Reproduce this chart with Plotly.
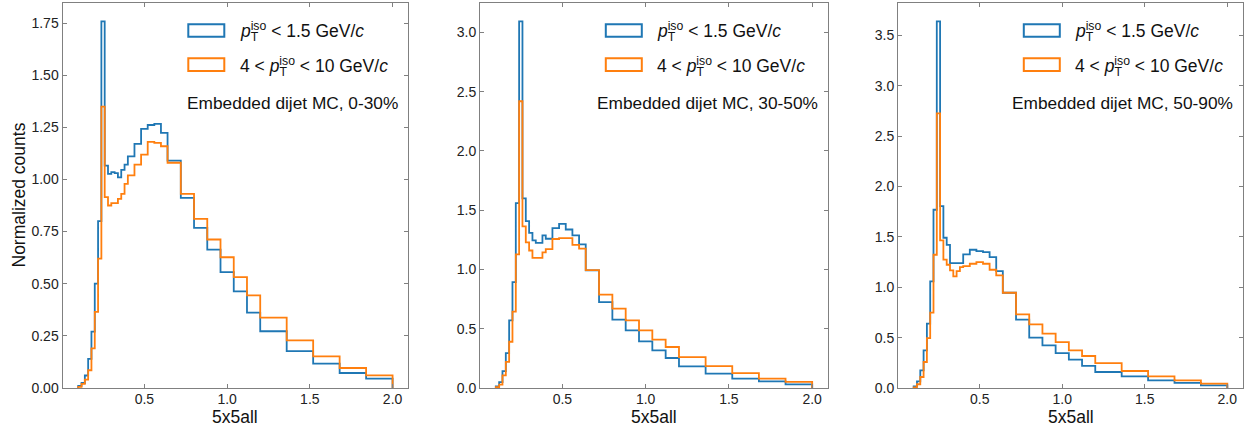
import plotly.graph_objects as go

# ---------------- data ----------------
bin_edges = [0.10, 0.12, 0.14, 0.16, 0.18, 0.20, 0.22, 0.24, 0.26, 0.28, 0.30,
             0.32, 0.34, 0.36, 0.38, 0.40, 0.44, 0.48, 0.52, 0.56, 0.60, 0.64,
             0.72, 0.80, 0.88, 0.96, 1.04, 1.12, 1.20, 1.36, 1.52, 1.68, 1.84, 2.00]

iso_low_0_30 = [0.010, 0.024, 0.060, 0.140, 0.270, 0.500, 0.800,
                1.758,
                1.066, 1.027, 1.035, 1.030, 1.010, 1.046, 1.071,
                1.111, 1.170, 1.242, 1.261, 1.266, 1.223,
                1.090, 0.912, 0.768, 0.663, 0.556, 0.463, 0.361,
                0.272, 0.177, 0.117, 0.072, 0.045]
iso_high_0_30 = [0.005, 0.020, 0.040, 0.085, 0.190, 0.365, 0.620,
                 1.349,
                 0.915, 0.875, 0.886, 0.886, 0.907, 0.931, 0.979,
                 1.019, 1.071, 1.119, 1.180, 1.175, 1.159,
                 1.080, 0.931, 0.811, 0.712, 0.627, 0.532, 0.444,
                 0.337, 0.228, 0.152, 0.096, 0.061]

iso_low_30_50 = [0.014, 0.050, 0.143, 0.295, 0.570, 0.893, 1.559,
                 3.093,
                 1.600, 1.407, 1.309, 1.245, 1.225, 1.225, 1.287,
                 1.259, 1.348, 1.385, 1.337, 1.287, 1.211,
                 0.992, 0.725, 0.576, 0.486, 0.394, 0.318, 0.253,
                 0.183, 0.121, 0.079, 0.056, 0.031]
iso_high_30_50 = [0.008, 0.028, 0.107, 0.220, 0.390, 0.645, 1.127,
                  2.419,
                  1.363, 1.229, 1.160, 1.098, 1.098, 1.098, 1.144,
                  1.172, 1.257, 1.265, 1.265, 1.207, 1.175,
                  0.995, 0.787, 0.669, 0.570, 0.486, 0.408, 0.346,
                  0.261, 0.185, 0.126, 0.079, 0.051]

iso_low_50_90 = [0.017, 0.066, 0.176, 0.374, 0.639, 1.059, 1.770,
                 3.641,
                 1.806, 1.492, 1.422, 1.240, 1.240, 1.240, 1.240,
                 1.326, 1.373, 1.360, 1.350, 1.300, 1.161,
                 0.946, 0.678, 0.500, 0.424, 0.347, 0.282, 0.219,
                 0.159, 0.116, 0.076, 0.050, 0.027]
iso_high_50_90 = [0.007, 0.037, 0.109, 0.258, 0.496, 0.748, 1.323,
                  2.728,
                  1.465, 1.274, 1.224, 1.168, 1.108, 1.161, 1.200,
                  1.210, 1.234, 1.250, 1.234, 1.174, 1.118,
                  0.946, 0.731, 0.632, 0.540, 0.456, 0.374, 0.318,
                  0.248, 0.169, 0.116, 0.076, 0.043]

panel_labels = ["Embedded dijet MC, 0-30%", "Embedded dijet MC, 30-50%", "Embedded dijet MC, 50-90%"]
series_low = [iso_low_0_30, iso_low_30_50, iso_low_50_90]
series_high = [iso_high_0_30, iso_high_30_50, iso_high_50_90]
y_tick_vals = [[0, 0.25, 0.5, 0.75, 1.0, 1.25, 1.5, 1.75],
               [0, 0.5, 1.0, 1.5, 2.0, 2.5, 3.0],
               [0, 0.5, 1.0, 1.5, 2.0, 2.5, 3.0, 3.5]]
y_tick_fmt = [".2f", ".1f", ".1f"]
x_tick_vals = [0.5, 1.0, 1.5, 2.0]
legend_low = "<i>p</i><sub><span style='letter-spacing:-0.62em'>T</span></sub><sup>iso</sup> < 1.5 GeV/<i>c</i>"
legend_high = "4 < <i>p</i><sub><span style='letter-spacing:-0.62em'>T</span></sub><sup>iso</sup> < 10 GeV/<i>c</i>"
x_title = "5x5all"
y_title = "Normalized counts"

BLUE = "#1f77b4"
ORANGE = "#ff7f0e"
FONT = "Liberation Sans"
SPINE = "#808080"

# ---------------- layout geometry (pixels) ----------------
W, H = 1250, 430
ML, MR, MT, MB = 62, 7, 3, 42
PW = W - ML - MR
PH = H - MT - MB
panels_px = [(62.5, 408.3), (480.0, 828.0), (898.0, 1243.0)]


def step_xy(edges, vals):
    xs = [edges[0]] + list(edges[:-1]) + [edges[-1], edges[-1]]
    ys = [0] + list(vals) + [vals[-1], 0]
    return xs, ys


fig = go.Figure()
annotations = []
shapes = []
xr = [0.005, 2.095]

for i in range(3):
    ax = "" if i == 0 else str(i + 1)
    xa, ya = "x" + ax, "y" + ax
    for vals, col in ((series_low[i], BLUE), (series_high[i], ORANGE)):
        xs, ys = step_xy(bin_edges, vals)
        fig.add_trace(go.Scatter(x=xs, y=ys, mode="lines", line_shape="hv",
                                 line=dict(color=col, width=1.8),
                                 xaxis=xa, yaxis=ya, showlegend=False,
                                 hoverinfo="skip"))
    x0p, x1p = panels_px[i]
    dom = [(x0p - ML) / PW, (x1p - ML) / PW]
    ymax = max(max(series_low[i]), max(series_high[i])) * 1.05
    axis_common = dict(showline=True, linecolor=SPINE, linewidth=1, mirror="ticks",
                       ticks="inside", ticklen=4, tickcolor=SPINE, tickwidth=1,
                       showgrid=False, zeroline=False,
                       tickfont=dict(family=FONT, size=14, color="#222"))
    fig.update_layout(**{
        ("xaxis" + ax): dict(domain=dom, range=xr, tickvals=x_tick_vals,
                             tickformat=".1f", anchor=ya, ticklabelstandoff=-2,
                             **axis_common),
        ("yaxis" + ax): dict(domain=[0, 1], range=[0, ymax], tickvals=y_tick_vals[i],
                             tickformat=y_tick_fmt[i], anchor=xa, **axis_common),
    })
    pw = x1p - x0p

    def fx(off):
        return off / pw

    def fy(ypx):
        return (H - MB - ypx) / PH

    # legend boxes
    for (yt, yb), col in (((24.3, 36.7), BLUE), ((58.3, 71.0), ORANGE)):
        shapes.append(dict(type="rect", xref=xa + " domain", yref=ya + " domain",
                           x0=fx(125.8), x1=fx(161.8), y0=fy(yb), y1=fy(yt),
                           line=dict(color=col, width=2), fillcolor="rgba(0,0,0,0)"))
    annotations.append(dict(text=legend_low, xref=xa + " domain", yref=ya + " domain",
                            x=fx(175.0), y=fy(30.5), xanchor="left", yanchor="middle",
                            showarrow=False, font=dict(family=FONT, size=17.5, color="#111")))
    annotations.append(dict(text=legend_high, xref=xa + " domain", yref=ya + " domain",
                            x=fx(175.0), y=fy(64.7), xanchor="left", yanchor="middle",
                            showarrow=False, font=dict(family=FONT, size=17.5, color="#111")))
    annotations.append(dict(text=panel_labels[i], xref=xa + " domain", yref=ya + " domain",
                            x=1 - fx(8.0), y=fy(102.5), xanchor="right", yanchor="middle",
                            showarrow=False, font=dict(family=FONT, size=17.3, color="#111")))
    annotations.append(dict(text=x_title, xref=xa + " domain", yref=ya + " domain",
                            x=0.5, y=0, yshift=-28.5, xanchor="center", yanchor="middle",
                            showarrow=False, font=dict(family=FONT, size=17.5, color="#111")))

annotations.append(dict(text=y_title, xref="paper", yref="paper", x=0, xshift=-44,
                        y=0.5, xanchor="center", yanchor="middle", textangle=-90,
                        showarrow=False, font=dict(family=FONT, size=17.5, color="#111")))

fig.update_layout(width=W, height=H, margin=dict(l=ML, r=MR, t=MT, b=MB),
                  paper_bgcolor="white", plot_bgcolor="white",
                  annotations=annotations, shapes=shapes, showlegend=False)

fig.write_html("out.html")
